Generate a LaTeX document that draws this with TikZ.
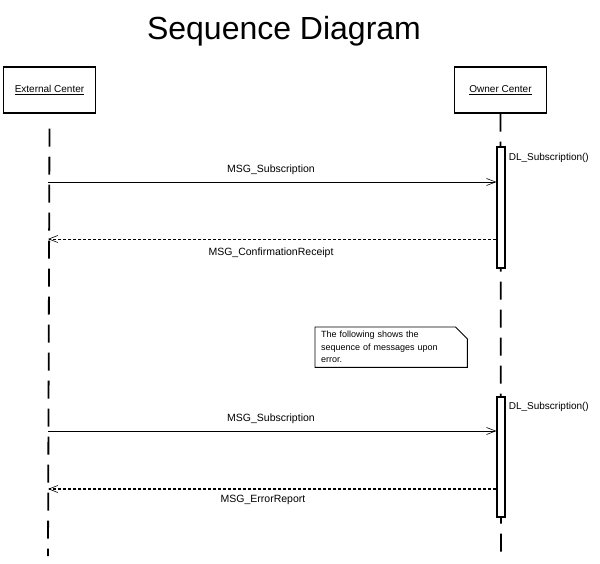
\documentclass[tikz,border=0pt]{standalone}
\usepackage{fontspec}
\setmainfont{Liberation Sans}
\usetikzlibrary{arrows.meta,positioning}

\begin{document}
\begin{tikzpicture}[x=1pt,y=-1pt,
    actor/.style={draw, line width=1.1pt, minimum width=92pt, minimum height=46pt, font=\fontsize{10}{12}\selectfont},
    life/.style={line width=1.8pt, dash pattern=on 18pt off 10pt},
    act/.style={draw, line width=1.2pt, fill=white, minimum width=8pt, inner sep=0pt},
    msg/.style={line width=0.8pt, -{Straight Barb[length=9pt,width=7pt,line width=0.6pt]}},
    reply/.style={msg, dash pattern=on 3pt off 2pt},
    lbl/.style={font=\fontsize{10.5}{12}\selectfont, inner sep=0pt},
    call/.style={font=\fontsize{10}{12}\selectfont, inner sep=0pt}]
    \useasboundingbox (0,0) rectangle (600,564);

    % titel
    \node[font=\fontsize{32}{36}\selectfont, anchor=base] (title) at (284,40) {Sequence Diagram};

    % objekte
    \node[actor] (ext) at (49.5,90) {\underline{External Center}};
    \node[actor] (own) at (500.5,90) {\underline{Owner Center}};

    % lebenslinien
    \coordinate (extend) at (48,556);
    \coordinate (ownend) at (501,556);
    \draw[life] ([yshift=-15pt]ext.south) -- (extend);
    \draw[life] (own.south) -- (ownend);

    % aktivierungen
    \node[act, minimum height=121pt] (act1) at (501,207.5) {};
    \node[act, minimum height=120pt] (act2) at (501,457) {};
    \node[call, below right=7pt and 3pt of act1.north east] (call1) {DL\_Subscription()};
    \node[call, below right=6pt and 3pt of act2.north east] (call2) {DL\_Subscription()};

    % nachrichten (normaler ablauf)
    \coordinate (e1) at (48,182);
    \coordinate (e2) at (48,239);
    \draw[msg] (e1) -- (e1 -| act1.west);
    \node[lbl] (m1) at (271,170) {MSG\_Subscription};
    \draw[reply, line width=0.6pt] (e2 -| act1.west) -- (e2);
    \node[lbl] (m2) at (271,253) {MSG\_ConfirmationReceipt};

    % notiz
    \node[anchor=north west, text width=140pt, inner xsep=6pt, inner ysep=3pt,
          minimum height=40pt, align=left, font=\fontsize{9}{12.5}\selectfont] (note) at (315,327)
          {The following shows the\\sequence of messages upon\\error.};
    \draw[line width=0.9pt] (note.south west) -- (note.north west) -- ([xshift=-12pt]note.north east)
        -- ([yshift=-12pt]note.north east) -- (note.south east) -- cycle;

    % nachrichten (fehlerfall)
    \coordinate (e3) at (48,431);
    \coordinate (e4) at (48,489);
    \draw[msg] (e3) -- (e3 -| act2.west);
    \node[lbl] (m3) at (271,419) {MSG\_Subscription};
    \draw[reply, line width=1.1pt] (e4 -| act2.west) -- (e4);
    \node[lbl] (m4) at (263,500) {MSG\_ErrorReport};
\end{tikzpicture}
\end{document}
